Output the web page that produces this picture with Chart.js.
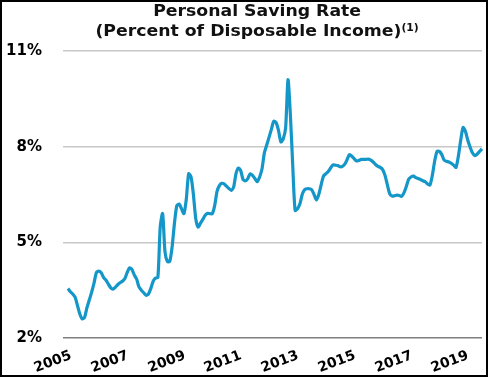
<!DOCTYPE html>
<html>
<head>
<meta charset="utf-8">
<script src="https://cdn.jsdelivr.net/npm/chart.js@4"></script>
<style>
  body { margin: 0; background: #fff; }
  #frame {
    position: absolute; left: 0; top: 0;
    width: 484px; height: 373px;
    border: 2px solid #000;
    overflow: hidden;
  }
  #title {
    position: absolute; left: 0; top: -1px; width: 510px;
    text-align: center;
    font: bold 16px "DejaVu Sans", sans-serif;
    line-height: 19.5px;
    color: #111;
    transform: scaleX(1.08);
    transform-origin: 254px 0;
  }
  #title sup { font-size: 10px; vertical-align: 5px; line-height: 0; }
  canvas { position: absolute; left: 0; top: 0; }
</style>
</head>
<body>
<div id="frame">
  <canvas id="saving-chart" width="484" height="373"></canvas>
  <div id="title">Personal Saving Rate<br>(Percent of Disposable Income)<sup>(1)</sup></div>
</div>
<script>
const startYear = 2005;
const tickYears = ["2005", "2007", "2009", "2011", "2013", "2015", "2017", "2019"];

// monthly saving rate, Jan 2005 - Aug 2019 (%)
const savingRate = [
  3.55, 3.45, 3.38, 3.28, 3.02, 2.75, 2.6, 2.65, 2.95, 3.19, 3.44, 3.72,
  4.05, 4.1, 4.05, 3.9, 3.82, 3.7, 3.58, 3.53, 3.59, 3.67, 3.73, 3.78,
  3.86, 4.05, 4.2, 4.15, 3.98, 3.85, 3.6, 3.5, 3.42, 3.34, 3.38, 3.55,
  3.78, 3.88, 3.9, 5.5, 5.9, 4.7, 4.4, 4.4, 4.85, 5.6, 6.15, 6.2,
  6.05, 5.9, 6.35, 7.15, 7.05, 6.5, 5.75, 5.48, 5.6, 5.72, 5.85, 5.91,
  5.9, 5.9, 6.15, 6.6, 6.78, 6.85, 6.83, 6.76, 6.69, 6.63, 6.73, 7.15,
  7.33, 7.25, 6.97, 6.93, 7.0, 7.15, 7.1, 7.0, 6.9, 7.05, 7.3, 7.8,
  8.05, 8.3, 8.55, 8.8, 8.75, 8.5, 8.15, 8.25, 8.6, 10.1, 9.0, 7.4,
  6.0, 6.05, 6.2, 6.5, 6.65, 6.68, 6.68, 6.65, 6.5, 6.33, 6.5, 6.8,
  7.08, 7.15, 7.22, 7.33, 7.43, 7.42, 7.41, 7.37, 7.38, 7.45, 7.6, 7.75,
  7.7, 7.62, 7.55, 7.57, 7.6, 7.6, 7.6, 7.61, 7.58, 7.52, 7.44, 7.38,
  7.35, 7.28, 7.1, 6.8, 6.52, 6.45, 6.46, 6.48, 6.47, 6.44, 6.55, 6.75,
  6.98, 7.05, 7.08, 7.03, 7.0, 6.97, 6.93, 6.9, 6.83, 6.8, 7.1, 7.55,
  7.85, 7.85, 7.75, 7.58, 7.54, 7.52, 7.48, 7.42, 7.35, 7.7, 8.2, 8.6,
  8.48, 8.2, 7.98, 7.8, 7.72, 7.77, 7.85, 7.93
];

const months = savingRate.map((v, i) => {
  const y = startYear + Math.floor(i / 12);
  const m = (i % 12) + 1;
  return y + "-" + String(m).padStart(2, "0");
});

// slanted year labels under the axis, at the January point of each year
const yearLabels = {
  id: "yearLabels",
  afterDraw(chart) {
    const xs = chart.scales.x;
    const c = chart.ctx;
    c.save();
    c.fillStyle = "#000";
    c.font = "bold 14px 'DejaVu Sans'";
    c.textAlign = "right";
    c.textBaseline = "middle";
    months.forEach((lbl, i) => {
      const yr = lbl.slice(0, 4);
      if (!lbl.endsWith("-01") || !tickYears.includes(yr)) return;
      c.save();
      c.translate(Math.round(xs.getPixelForValue(i)) + 3, Math.round(xs.top) + 17);
      c.rotate((-21 * Math.PI) / 180);
      c.fillText(yr, 0, 0);
      c.restore();
    });
    c.restore();
  },
};

const ctx = document.getElementById("saving-chart").getContext("2d");
const chart = new Chart(ctx, {
  type: "line",
  data: {
    labels: months,
    datasets: [
      {
        data: savingRate,
        borderColor: "#1497c8",
        borderWidth: 3.2,
        pointRadius: 0,
        tension: 0.25,
        fill: false,
      },
    ],
  },
  options: {
    responsive: false,
    animation: false,
    layout: { padding: { top: 49, right: 4, left: 0, bottom: 0 } },
    plugins: {
      legend: { display: false },
      tooltip: { enabled: false },
    },
    scales: {
      x: {
        grid: { display: false, drawTicks: false },
        border: { display: false },
        ticks: { display: false },
        afterFit: (s) => {
          s.height = 37;
          s.paddingLeft = 0;
          s.paddingRight = 0;
        },
      },
      y: {
        min: 2,
        max: 11,
        border: { display: false },
        afterFit: (s) => { s.width = 66; },
        grid: {
          color: (c) => (c.tick && c.tick.value === 2 ? "#7f7f7f" : "#c8c8c8"),
          lineWidth: 1.5,
          tickLength: 5,
        },
        ticks: {
          stepSize: 3,
          padding: 21,
          color: "#000",
          font: { family: "DejaVu Sans", size: 15, weight: "bold" },
          callback: (v) => v + "%",
        },
      },
    },
  },
  plugins: [yearLabels],
});
</script>
</body>
</html>
